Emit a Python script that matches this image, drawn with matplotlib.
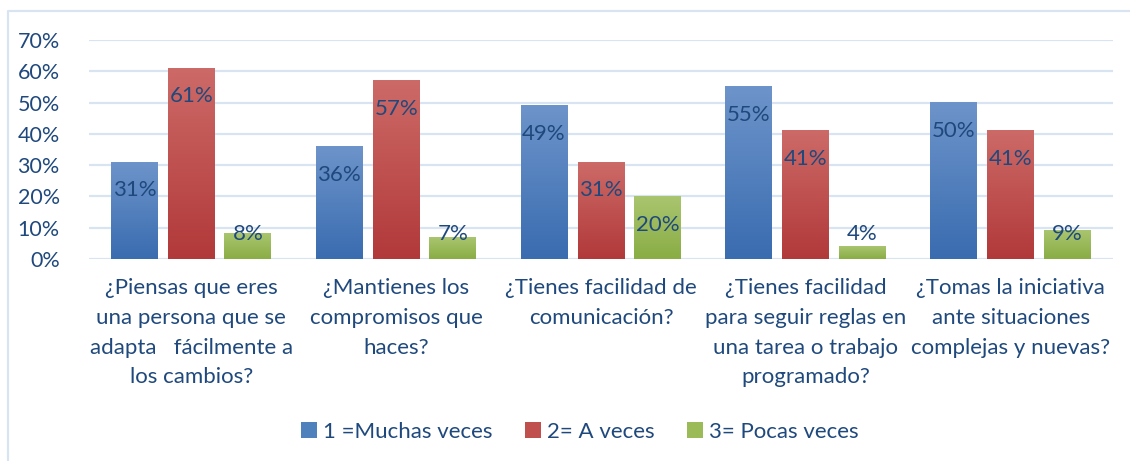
import numpy as np
import matplotlib
matplotlib.use("Agg")
import matplotlib.pyplot as plt
from matplotlib.colors import LinearSegmentedColormap
from matplotlib.patches import Patch
from matplotlib.lines import Line2D

# ── data ────────────────────────────────────────────────────────────────
categories = [
    "¿Piensas que eres\nuna persona que se\nadapta   fácilmente a\nlos cambios?",
    "¿Mantienes los\ncompromisos que\nhaces?",
    "¿Tienes facilidad de\ncomunicación?",
    "¿Tienes facilidad\npara seguir reglas en\nuna tarea o trabajo\nprogramado?",
    "¿Tomas la iniciativa\nante situaciones\ncomplejas y nuevas?",
]
series_names = ["1 =Muchas veces", "2= A veces", "3= Pocas veces"]
muchas = [0.31, 0.36, 0.49, 0.55, 0.50]
a_veces = [0.61, 0.57, 0.31, 0.41, 0.41]
pocas = [0.08, 0.07, 0.20, 0.04, 0.09]
yticks = [0, 0.1, 0.2, 0.3, 0.4, 0.5, 0.6, 0.7]

TXT = "#1f497d"
GRID = "#d9e4f2"
# (top colour, bottom colour) for the Excel-style gradient
grads = [("#6d94ca", "#3a6cb0"), ("#cc6a67", "#b2393a"), ("#a9c56f", "#8aad45")]
solid = ["#4f81bd", "#c0504d", "#9bbb59"]

plt.rcParams["font.family"] = ["Lato", "DejaVu Sans"]

fig = plt.figure(figsize=(11.3, 4.61), dpi=100)
ax = fig.add_axes([89 / 1130, 1 - 259 / 461, (1113 - 89) / 1130, 219 / 461])

x = np.arange(len(categories))
offsets = [-0.278, 0.0, 0.276]
width = 0.229
ramp = np.linspace(1, 0, 64).reshape(-1, 1)

for vals, off, (ctop, cbot) in zip([muchas, a_veces, pocas], offsets, grads):
    cmap = LinearSegmentedColormap.from_list("g", [cbot, ctop])
    for xi, v in zip(x, vals):
        x0 = xi + off - width / 2
        ax.imshow(ramp, cmap=cmap, aspect="auto", vmin=0, vmax=1,
                  extent=[x0, x0 + width, 0, v], zorder=3,
                  interpolation="bilinear")
        ax.text(xi + off, max(v - 0.09, 0.08), f"{v * 100:.0f}%",
                ha="center", va="center", color=TXT, fontsize=16, zorder=4)

ax.set_xlim(-0.5, len(categories) - 0.5)
ax.set_ylim(0, 0.7)
ax.set_yticks(yticks)
ax.set_yticklabels([f"{t * 100:.0f}%" for t in yticks])
ax.yaxis.grid(True, color=GRID, lw=1.6, zorder=0)
ax.set_axisbelow(True)
for s in ax.spines.values():
    s.set_visible(False)
ax.tick_params(axis="y", length=0, pad=21, labelsize=15.5, labelcolor=TXT)
ax.set_xticks(x)
ax.set_xticklabels(categories, fontsize=16, color=TXT, linespacing=1.6)
ax.tick_params(axis="x", length=0, pad=14)

handles = [Patch(facecolor=c, edgecolor="none") for c in solid]
fig.legend(handles, series_names, loc="center", bbox_to_anchor=(580 / 1130, 1 - 432 / 461),
           ncol=3, frameon=False, fontsize=16, labelcolor=TXT,
           handlelength=0.7, handleheight=0.7, handletextpad=0.3,
           columnspacing=1.45)

# outer chart frame (left and top edges visible in the crop)
fig.add_artist(Line2D([8 / 1130, 8 / 1130, 1.0], [0.0, 1 - 11 / 461, 1 - 11 / 461],
                      color=GRID, lw=1.6, transform=fig.transFigure))

fig.savefig("out.png", dpi=100)
